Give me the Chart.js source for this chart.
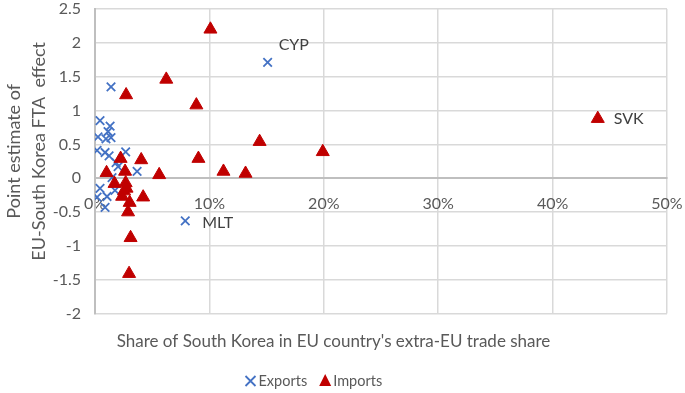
<!DOCTYPE html>
<html>
<head>
<meta charset="utf-8">
<script src="https://cdn.jsdelivr.net/npm/chart.js@4.4.1/dist/chart.umd.min.js"></script>
<style>
  html, body { margin: 0; padding: 0; background: #fff; }
  #wrap { width: 685px; height: 393px; }
</style>
</head>
<body>
<div id="wrap"><canvas id="scatterChart"></canvas></div>
<script>
// Share of South Korea in extra-EU trade (fraction) and FTA point estimates
const exportShare = [0.1509, 0.0789, 0.0140, 0.0044, 0.0132, 0.0114, 0.0026, 0.0096, 0.0140, 0.0018, 0.0088,
    0.0268, 0.0123, 0.0184, 0.0202, 0.0368, 0.0044, 0.0105, 0.0018, 0.0088, 0.0175, 0.0149];
const exportEffect = [1.71, -0.63, 1.35, 0.85, 0.77, 0.69, 0.61, 0.58, 0.60, 0.41, 0.38,
    0.39, 0.33, 0.23, 0.17, 0.10, -0.15, -0.27, -0.28, -0.43, -0.18, 0.01];
const exportTags = ['CYP', 'MLT'];

const importShare = [0.1009, 0.0623, 0.0272, 0.0886, 0.1439, 0.1991, 0.4395, 0.0904, 0.1123, 0.1316, 0.0561,
    0.0404, 0.0224, 0.0101, 0.0263, 0.0171, 0.0268, 0.0276, 0.0421, 0.0237, 0.0303, 0.0289, 0.0311, 0.0298, 0.0254];
const importEffect = [2.20, 1.46, 1.23, 1.08, 0.54, 0.39, 0.88, 0.29, 0.10, 0.07, 0.05,
    0.27, 0.29, 0.08, 0.10, -0.08, -0.07, -0.15, -0.28, -0.27, -0.36, -0.50, -0.88, -1.41, -0.19];
const importTags = [null, null, null, null, null, null, 'SVK'];

const xTicks = [0, 0.1, 0.2, 0.3, 0.4, 0.5];
const yTicks = [-2, -1.5, -1, -0.5, 0, 0.5, 1, 1.5, 2, 2.5];

const textColor = '#595959';
const fontFamily = 'Lato, "Liberation Sans", sans-serif';

function toPoints(xs, ys) {
    return xs.map((x, i) => ({ x: x, y: ys[i] }));
}

// Draws the country tags, the rotated y title and the legend
const extrasPlugin = {
    id: 'extras',
    afterDatasetsDraw(chart) {
        const ctx = chart.ctx;
        ctx.save();
        ctx.fillStyle = '#404040';
        ctx.font = '16px ' + fontFamily;
        ctx.textBaseline = 'middle';
        ctx.textAlign = 'left';
        const tagOffsets = { CYP: [11, -18], MLT: [17, 2], SVK: [16, 0] };
        [[1, exportTags], [0, importTags]].forEach(([dsIndex, tags]) => {
            const meta = chart.getDatasetMeta(dsIndex);
            tags.forEach((tag, i) => {
                if (!tag) return;
                const pt = meta.data[i];
                const off = tagOffsets[tag];
                ctx.fillText(tag, pt.x + off[0], pt.y + off[1]);
            });
        });
        ctx.restore();
    },
    afterDraw(chart) {
        const ctx = chart.ctx;
        const area = chart.chartArea;
        ctx.save();
        // y axis title, two lines
        ctx.fillStyle = textColor;
        ctx.font = '18px ' + fontFamily;
        ctx.textAlign = 'center';
        ctx.textBaseline = 'middle';
        const midY = (area.top + area.bottom) / 2 - 10;
        ['Point estimate of', 'EU-South Korea FTA  effect'].forEach((line, i) => {
            ctx.save();
            ctx.translate(14 + i * 25, midY);
            ctx.rotate(-Math.PI / 2);
            ctx.fillText(line, 0, 0);
            ctx.restore();
        });

        // legend
        const ly = chart.height - 12;
        let lx = chart.width / 2 - 92;
        ctx.font = '14.5px ' + fontFamily;
        ctx.textAlign = 'left';
        ctx.strokeStyle = '#4472C4';
        ctx.lineWidth = 1.8;
        ctx.beginPath();
        ctx.moveTo(lx - 5, ly - 5); ctx.lineTo(lx + 5, ly + 5);
        ctx.moveTo(lx + 5, ly - 5); ctx.lineTo(lx - 5, ly + 5);
        ctx.stroke();
        ctx.fillStyle = textColor;
        ctx.fillText('Exports', lx + 8, ly);
        lx += 8 + ctx.measureText('Exports').width + 18;
        ctx.fillStyle = '#C00000';
        ctx.beginPath();
        ctx.moveTo(lx, ly - 7); ctx.lineTo(lx + 6, ly + 5); ctx.lineTo(lx - 6, ly + 5);
        ctx.closePath();
        ctx.fill();
        ctx.fillStyle = textColor;
        ctx.fillText('Imports', lx + 8, ly);
        ctx.restore();
    }
};

const ctx = document.getElementById('scatterChart').getContext('2d');
const scatterChart = new Chart(ctx, {
    type: 'scatter',
    data: {
        datasets: [
            {
                label: 'Imports',
                data: toPoints(importShare, importEffect),
                pointStyle: 'triangle',
                pointRadius: 7.5,
                pointHoverRadius: 7.5,
                backgroundColor: '#C00000',
                borderColor: '#C00000',
                borderWidth: 1,
                order: 0
            },
            {
                label: 'Exports',
                data: toPoints(exportShare, exportEffect),
                pointStyle: 'crossRot',
                pointRadius: 6,
                pointHoverRadius: 6,
                borderColor: '#4472C4',
                borderWidth: 1.8,
                order: 1
            }
        ]
    },
    options: {
        responsive: true,
        maintainAspectRatio: false,
        animation: false,
        layout: { padding: { top: 0, right: 18, bottom: 41, left: 0 } },
        plugins: {
            legend: { display: false },
            tooltip: { enabled: false },
            title: {
                display: true,
                position: 'bottom',
                text: "Share of South Korea in EU country's extra-EU trade share",
                color: textColor,
                font: { family: fontFamily, size: 17, weight: 'normal' },
                padding: { top: 18, bottom: 0 }
            }
        },
        scales: {
            x: {
                type: 'linear',
                position: { y: 0 },
                min: 0,
                max: 0.5,
                afterBuildTicks: scale => { scale.ticks = xTicks.map(v => ({ value: v })); },
                afterFit: scale => {
                    scale.height = 0;
                    scale.paddingLeft = 0;
                    scale.paddingRight = 0;
                    scale.paddingTop = 0;
                    scale.paddingBottom = 0;
                },
                ticks: {
                    color: textColor,
                    font: { family: fontFamily, size: 16 },
                    padding: 16,
                    maxRotation: 0,
                    callback: v => Math.round(v * 100) + '%'
                },
                grid: { color: '#d9d9d9', lineWidth: 1.5, drawTicks: false },
                border: { color: '#bfbfbf', width: 2 }
            },
            y: {
                type: 'linear',
                position: 'left',
                min: -2,
                max: 2.5,
                afterBuildTicks: scale => { scale.ticks = yTicks.map(v => ({ value: v })); },
                afterFit: scale => {
                    scale.width = 95;
                    scale.paddingTop = 9;
                    scale.paddingBottom = 9;
                },
                ticks: {
                    color: textColor,
                    font: { family: fontFamily, size: 16 },
                    padding: 14,
                    callback: v => String(v)
                },
                grid: { color: '#d9d9d9', lineWidth: 1.5, drawTicks: false },
                border: { color: '#bfbfbf', width: 2 }
            }
        }
    },
    plugins: [extrasPlugin]
});
</script>
</body>
</html>
